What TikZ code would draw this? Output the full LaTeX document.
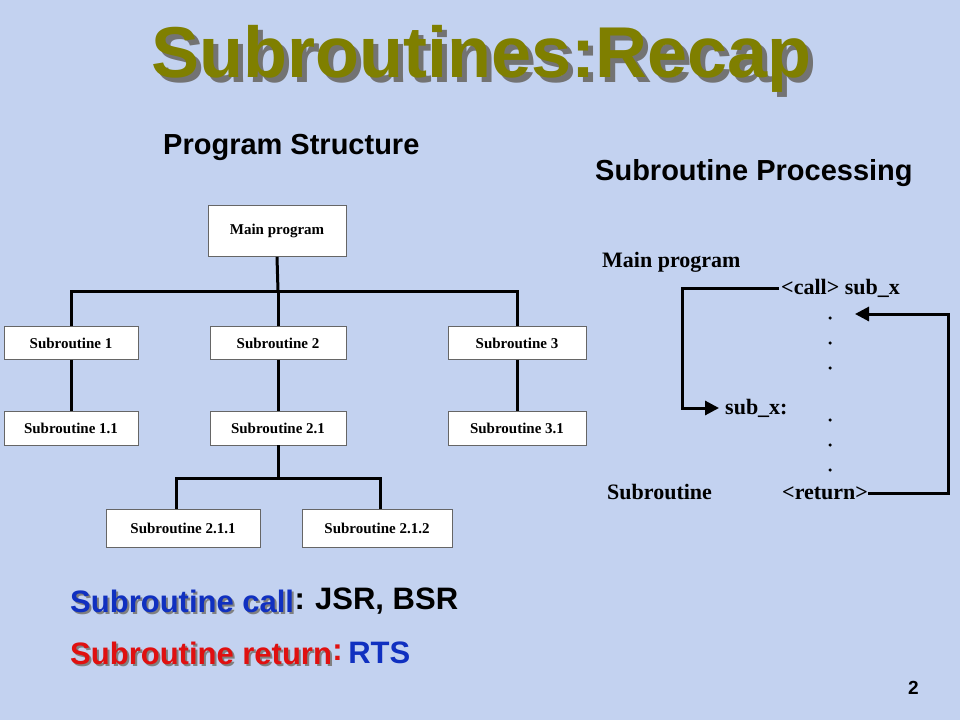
\documentclass[tikz,border=0pt]{standalone}
\usepackage{fontspec}
\setmainfont{Liberation Serif}
\setsansfont{Liberation Sans}
\usetikzlibrary{arrows.meta,calc}
\definecolor{bg}{HTML}{C3D2F0}
\definecolor{olive}{HTML}{7F7F00}
\definecolor{myblue}{HTML}{1030C0}
\definecolor{myred}{HTML}{E01010}
\tikzset{
  box/.style={draw=black!60,fill=white,line width=0.8pt,minimum height=#1,inner sep=0pt,font=\bfseries\fontsize{15}{15}\selectfont},
  box/.default=33pt,
  tree/.style={line width=3pt},
  flow/.style={line width=3pt,-{Triangle[length=14pt,width=14pt]}},
  lbl/.style={font=\bfseries\fontsize{22}{22}\selectfont,anchor=west,inner sep=0pt},
  dot/.style={circle,fill=black,inner sep=0pt,minimum size=3.5pt},
  sh/.style={font=\sffamily\bfseries\fontsize{#1}{#1}\selectfont,anchor=west,inner sep=0pt}
}
\begin{document}
\begin{tikzpicture}[x=1pt,y=-1pt]
\fill[bg] (0,0) rectangle (960,720);
% title
\node[sh=72,text=black!55] (tsh) at (156,64) {Subroutines:Recap};
\node[sh=72,text=olive] (title) at (151,59) {Subroutines:Recap};
\node[sh=29] (ps) at (163,147) {Program Structure};
\node[sh=29] (sp) at (595,173) {Subroutine Processing};
% tree
\node[box=51pt,minimum width=138pt] (main) at (277,231) {Main program};
\node[box,minimum width=134pt] (s1) at (71,343) {Subroutine 1};
\node[box,minimum width=136pt] (s2) at (278,343) {Subroutine 2};
\node[box,minimum width=138pt] (s3) at (517,343) {Subroutine 3};
\node[box=34pt,minimum width=134pt] (s11) at (71,428) {Subroutine 1.1};
\node[box=34pt,minimum width=136pt] (s21) at (278,428) {Subroutine 2.1};
\node[box=34pt,minimum width=138pt] (s31) at (517,428) {Subroutine 3.1};
\node[box=38pt,minimum width=154pt] (s211) at (183,528) {Subroutine 2.1.1};
\node[box=38pt,minimum width=150pt] (s212) at (377,528) {Subroutine 2.1.2};
\coordinate (j1) at (278,291);
\coordinate (j2) at (278,478);
\draw[tree] (main.south) -- (j1);
\draw[tree] (s1.north) |- (j1) -| (s3.north);
\draw[tree] (j1) -- (s2.north);
\draw[tree] (s1) -- (s11);
\draw[tree] (s2) -- (s21);
\draw[tree] (s3) -- (s31);
\draw[tree] (s21.south) -- (j2);
\draw[tree] (s211.north -| 176,0) |- (j2) -| (s212.north -| 380,0);
% processing
\node[lbl] (mp) at (602,262) {Main program};
\node[lbl] (call) at (781,288) {<call> sub\_x};
\node[lbl] (subx) at (725,408) {sub\_x:};
\node[lbl] (ret) at (782,493) {<return>};
\node[lbl] (subr) at (607,492) {Subroutine};
\foreach \i/\yy in {1/318,2/343,3/368,4/420,5/445,6/470}
  \node[dot] (d\i) at (830,\yy) {};
\coordinate (c1) at (682,288);
\coordinate (c2) at (948,493);
\draw[flow] ([xshift=-2pt]call.west) -- (c1) |- ([xshift=-6pt]subx.west);
\draw[flow] (ret.east) -- (c2) |- (855,314);
% bottom
\node[sh=31,text=black!50] (b1s) at (72,603) {Subroutine call};
\node[sh=31,text=myblue] (b1) at (70,601) {Subroutine call};
\node[sh=31,anchor=west] (b1b) at (b1.east) {:\,\,JSR, BSR};
\node[sh=31,text=black!50] (b2s) at (72,655) {Subroutine return};
\node[sh=31,text=myred] (b2) at (70,653) {Subroutine return};
\node[sh=31,anchor=west,text=myred] (b2c) at (b2.east) {:};
\node[sh=31,anchor=west,text=myblue] (b2b) at (b2c.east) {\,RTS};
\node[sh=19] (pg) at (908,688) {2};
\end{tikzpicture}
\end{document}
